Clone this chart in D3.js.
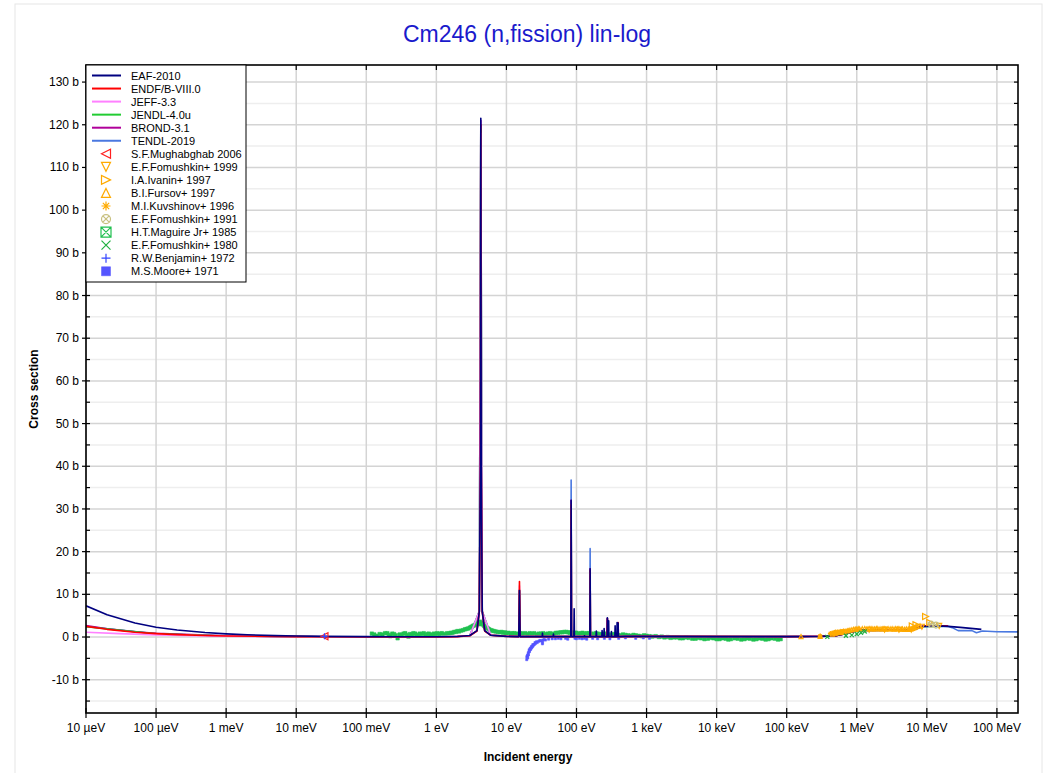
<!DOCTYPE html>
<html><head><meta charset="utf-8">
<script src="https://cdn.jsdelivr.net/npm/d3@7"></script>
<style>body{margin:0;background:#fff;} svg{font-family:"Liberation Sans",Arial,sans-serif;}</style>
</head><body><svg id="c" width="1063" height="773"></svg>
<script>
// ---------------- DATA ----------------
const title = "Cm246 (n,fission) lin-log";
const xTickValues = [1e-5,1e-4,1e-3,1e-2,1e-1,1,10,100,1e3,1e4,1e5,1e6,1e7,1e8];
const xTickLabels = ["10 µeV","100 µeV","1 meV","10 meV","100 meV","1 eV","10 eV","100 eV","1 keV","10 keV","100 keV","1 MeV","10 MeV","100 MeV"];
const yTickValues = [-10,0,10,20,30,40,50,60,70,80,90,100,110,120,130];
const yMinorValues = [-15,-5,5,15,25,35,45,55,65,75,85,95,105,115,125];

const eaf2010 = [[1e-5,7.3],[2e-5,5.2],[5e-5,3.3],[1e-4,2.3],[2e-4,1.65],[5e-4,1.05],[1e-3,0.74],[2e-3,0.52],[5e-3,0.33],[1e-2,0.23],[0.0253,0.15],[0.1,0.08],[0.3,0.05],[1,0.05],[2,0.12],[3,0.35],[3.8,1.5],[4.1,6],[4.25,40],[4.31,121.5],[4.37,40],[4.52,6],[4.9,1.5],[6,0.4],[10,0.15],[15.0,0.1],[15.35,10.9],[15.7,0.1],[32.4,0.1],[32.7,0.9],[33,0.1],[46.5,0.1],[46.9,0.7],[47.3,0.1],[83,0.1],[83.9,32],[84.8,0.1],[91.8,0.1],[92.6,6.6],[93.4,0.1],[129,0.1],[130,0.3],[131,0.1],[155,0.1],[156.6,16],[158,0.1],[190,0.1],[192,1.4],[194,0.1],[230,0.1],[232,1.5],[234,0.1],[246,0.1],[248,2.0],[250,0.1],[274,0.1],[276,4.5],[278,0.1],[286,0.1],[288,3.8],[290,0.1],[313,0.1],[315,1.3],[317,0.1],[353,0.1],[356,2.6],[359,0.1],[377,0.1],[380,3.4],[383,0.1],[390,0.1],[393,3.3],[396,0.1],[500,0.15],[1e3,0.15],[1e4,0.1],[1e5,0.1],[3e5,0.15],[5e5,0.3],[7e5,0.8],[1e6,1.5],[1.3e6,1.65],[3e6,1.6],[5e6,1.6],[6.5e6,1.7],[7.5e6,2.2],[9e6,2.5],[1.5e7,2.6],[2e7,2.5],[3e7,2.25],[6e7,1.8]];
const endf8 = [[1e-5,2.5],[2e-5,1.8],[5e-5,1.12],[1e-4,0.8],[2e-4,0.56],[5e-4,0.36],[1e-3,0.25],[1e-2,0.08],[0.0253,0.05],[0.1,0.03],[1,0.04],[2,0.1],[3,0.3],[3.8,1.4],[4.1,6],[4.25,40],[4.31,120],[4.37,40],[4.52,6],[4.9,1.4],[6,0.4],[10,0.15],[15.0,0.1],[15.35,13],[15.7,0.1],[83,0.1],[83.9,31],[84.8,0.1],[155,0.1],[156.6,15.5],[158,0.1],[274,0.1],[276,4.3],[278,0.1],[390,0.1],[393,3.4],[396,0.1],[1e3,0.15],[1e5,0.1],[3e5,0.15],[5e5,0.3],[7e5,0.8],[1e6,1.5],[1.3e6,1.65],[3e6,1.62],[5e6,1.6],[6.5e6,1.75],[7.5e6,2.3],[9e6,2.55],[1.5e7,2.65],[2e7,2.6]];
const jeff33 = [[1e-5,1.1],[3e-5,0.8],[1e-4,0.5],[1e-3,0.2],[1e-2,0.08],[0.0253,0.05],[1,0.04],[3,0.3],[4.1,6],[4.31,118],[4.52,6],[6,0.4],[15.0,0.1],[15.35,12],[15.7,0.1],[83,0.1],[83.9,31],[84.8,0.1],[155,0.1],[156.6,15],[158,0.1],[1e3,0.15],[1e5,0.1],[5e5,0.3],[1e6,1.5],[3e6,1.62],[6.5e6,1.75],[9e6,2.55],[2e7,2.6]];
const jendl40u = [[1e-5,2.4],[1e-4,0.77],[1e-3,0.24],[1e-2,0.08],[0.0253,0.05],[1,0.04],[3,0.3],[4.1,6],[4.31,119],[4.52,6],[6,0.4],[15.0,0.1],[15.35,11],[15.7,0.1],[83,0.1],[83.9,31],[84.8,0.1],[155,0.1],[156.6,15],[158,0.1],[1e3,0.15],[1e5,0.1],[5e5,0.3],[1e6,1.5],[3e6,1.6],[6.5e6,1.72],[9e6,2.5],[2e7,2.55]];
const brond31 = [[1e-5,2.7],[2e-5,1.95],[5e-5,1.22],[1e-4,0.86],[1e-3,0.27],[1e-2,0.09],[0.0253,0.055],[1,0.04],[2,0.11],[3,0.33],[3.8,1.45],[4.1,6],[4.25,40],[4.31,121],[4.37,40],[4.52,6],[4.9,1.45],[6,0.4],[15.0,0.1],[15.35,10.9],[15.7,0.1],[83,0.1],[83.9,32],[84.8,0.1],[155,0.1],[156.6,16],[158,0.1],[274,0.1],[276,4.4],[278,0.1],[1e3,0.15],[1e5,0.1],[5e5,0.3],[1e6,1.5],[3e6,1.6],[6.5e6,1.72],[9e6,2.52],[2e7,2.55]];
const tendl2019 = [[1e-5,2.45],[1e-4,0.78],[1e-3,0.25],[1e-2,0.08],[0.0253,0.05],[1,0.04],[3,0.3],[4.1,6],[4.31,120],[4.52,6],[6,0.4],[15.0,0.1],[15.35,11],[15.7,0.1],[83,0.1],[83.9,36.8],[84.8,0.1],[155,0.1],[156.6,20.7],[158,0.1],[274,0.1],[276,4.4],[278,0.1],[1e3,0.15],[1e5,0.1],[5e5,0.3],[1e6,1.5],[3e6,1.6],[6.5e6,1.72],[9e6,2.5],[2e7,2.55],[2.3e7,2.2],[2.8e7,1.5],[4.4e7,1.5],[5.1e7,1.0],[6.2e7,1.4],[1e8,1.25],[2e8,1.2]];

const mughabghab2006 = [[0.0253,0.16]];
const fomushkin1999 = [[1.5e6,1.7],[2.5e6,1.75],[4e6,1.7],[6e6,1.75],[8.5e6,2.4],[1.5e7,2.6]];
const ivanin1997 = [[6.2e6,2.6],[7.0e6,2.9],[9.6e6,4.8],[1.1e7,3.4]];
const fursov1997 = [[1.6e5,0.1],[3.0e5,0.15],[4.5e5,0.7],[4.8e5,0.9],[5.0e5,0.9],[5.3e5,1.1],[5.5e5,1.0],[5.8e5,1.2],[6.0e5,1.1],[6.5e5,1.2],[7e5,1.35],[7.5e5,1.5],[8e5,1.6],[8.5e5,1.7],[9e5,1.8],[9.5e5,1.85],[1.0e6,1.85],[1.05e6,1.95],[1.1e6,1.9],[1.2e6,1.95],[1.3e6,2.0],[1.4e6,1.9],[1.5e6,2.0],[1.6e6,1.95],[1.7e6,1.9],[1.8e6,1.9],[1.9e6,2.0],[2.0e6,1.95],[2.15e6,1.9],[2.3e6,1.9],[2.45e6,2.0],[2.6e6,1.85],[2.8e6,1.95],[3.0e6,1.9],[3.2e6,1.95],[3.4e6,1.85],[3.6e6,1.95],[3.8e6,1.9],[4.0e6,1.95],[4.3e6,1.85],[4.5e6,1.9],[4.8e6,1.8],[5.1e6,1.9],[5.4e6,1.8],[5.7e6,1.85],[6.0e6,1.9],[6.3e6,2.0],[6.6e6,2.2],[6.9e6,2.35],[7.2e6,2.5],[8.0e6,2.6]];
const kuvshinov1996 = [[3.0e5,0.2],[4.2e5,0.8],[4.6e5,1.0],[5.0e5,1.2],[5.5e5,1.1],[6.0e5,1.3],[6.5e5,1.4],[7.5e5,1.5]];
const fomushkin1991 = [[1.15e7,3.0],[1.35e7,2.8]];
const maguire1985 = [[0.12,0.8],[0.13,0.6],[0.14,0.3],[0.155,0.7],[0.17,0.6],[0.185,0.9],[0.2,0.9],[0.21,0.5],[0.22,0.2],[0.235,0.8],[0.25,0.7],[0.265,0.4],[0.28,-0.3],[0.3,0.6],[0.32,0.5],[0.34,0.8],[0.36,0.9],[0.38,0.5],[0.4,0.1],[0.42,0.7],[0.45,0.6],[0.47,0.9],[0.5,0.8],[0.52,0.5],[0.55,0.3],[0.58,0.8],[0.62,0.7],[0.66,0.9],[0.7,0.5],[0.74,0.7],[0.78,0.8],[0.82,0.6],[0.87,0.4],[0.92,0.8],[0.97,0.7],[1.03,0.9],[1.1,0.6],[1.15,0.8],[1.2,0.9],[1.28,0.7],[1.35,0.5],[1.42,0.9],[1.5,0.8],[1.6,1.0],[1.7,1.0],[1.8,1.2],[1.9,1.2],[2.0,1.4],[2.1,1.3],[2.25,1.5],[2.4,1.6],[2.55,1.8],[2.7,1.9],[2.85,2.0],[3.0,2.2],[3.15,2.4],[3.3,2.6],[3.45,2.7],[3.6,2.9],[3.75,3.0],[3.9,3.2],[4.0,3.4],[4.1,3.0],[4.2,3.6],[4.4,3.3],[4.5,3.1],[4.65,2.9],[4.8,2.6],[5.0,2.4],[5.2,2.1],[5.45,2.0],[5.7,1.8],[6.0,1.6],[6.3,1.5],[6.6,1.4],[7.0,1.3],[7.5,1.2],[8.0,1.1],[8.5,1.2],[9.0,1.0],[9.5,1.1],[10,0.9],[10.7,1.0],[11.5,0.8],[12.2,0.9],[13,0.9],[14,0.8],[15,0.7],[16,0.9],[17,0.8],[18.5,0.9],[20,0.7],[21.5,0.9],[23,0.8],[25,0.9],[27,0.6],[29,0.8],[31,0.8],[33.5,0.9],[36,0.7],[39,0.8],[42,0.9],[45,0.7],[48,0.8],[51,1.0],[55,1.0],[59,1.1],[63,1.1],[67,1.2],[72,1.2],[76,1.1],[80,1.0],[85,1.1],[90,0.9],[95,1.0],[100,1.0],[107,0.8],[115,0.9],[122,1.0],[130,0.8],[140,0.9],[150,0.9],[162,0.8],[175,0.7],[187,0.9],[200,0.8],[215,0.7],[230,0.6],[250,0.8],[270,0.7],[290,0.6],[310,0.5],[335,0.7],[360,0.6],[390,0.5],[420,0.4],[460,0.6],[500,0.5],[550,0.4],[600,0.3],[650,0.5],[700,0.4],[770,0.3],[850,0.2],[920,0.4],[1000,0.3],[1100,0.2],[1200,0.1],[1350,0.2],[1500,0.0],[1650,0.1],[1800,-0.1],[2000,0.0],[2200,-0.2],[2450,-0.1],[2700,-0.1],[3000,-0.3],[3300,-0.3],[3650,-0.1],[4000,-0.2],[4500,-0.4],[5000,-0.4],[5500,-0.2],[6000,-0.3],[6700,-0.5],[7500,-0.4],[8200,-0.2],[9000,-0.3],[10000,-0.5],[11000,-0.5],[12200,-0.3],[13500,-0.4],[14700,-0.6],[16000,-0.5],[18000,-0.3],[20000,-0.4],[22500,-0.6],[25000,-0.5],[27500,-0.3],[30000,-0.4],[33500,-0.6],[37000,-0.5],[41000,-0.3],[45000,-0.4],[50000,-0.6],[55000,-0.5],[61000,-0.3],[68000,-0.4],[75000,-0.6],[82000,-0.5]];
const fomushkin1980 = [[3.8e5,0.05],[7e5,0.3],[8.5e5,0.45],[1.0e6,0.7],[1.15e6,1.0],[1.3e6,1.3]];
const benjamin1972 = [[0.0253,0.17]];
const moore1971 = [[19.5,-5.3],[19.6,-4.6],[19.8,-4.8],[20,-4.3],[20.1,-4.9],[20.3,-4.2],[20.5,-3.7],[20.6,-4.2],[21,-3.5],[21.1,-3.0],[21.3,-3.4],[21.7,-3.0],[21.9,-2.6],[22.1,-2.9],[22.5,-2.6],[22.8,-2.2],[23,-2.5],[23.5,-2.2],[23.8,-1.8],[24,-2.1],[24.5,-1.8],[25.2,-1.7],[25.6,-1.3],[26,-1.5],[27,-1.1],[27.5,-1.3],[29,-1.0],[30,-0.8],[31,-0.9],[32.7,-1.6],[32.7,-1.2],[33,-0.7],[34.5,-0.6],[36,-0.7],[40,-0.5],[45,-0.4],[50,-0.4],[55,-0.3],[60,-0.4],[70,-0.3],[75,-0.5],[95,-0.3],[100,-0.4],[110,-0.3],[120,-0.4],[130,-0.3],[140,-0.5],[170,-0.3],[200,-0.4],[250,-0.3],[300,-0.4],[400,-0.3],[500,-0.2],[700,-0.3],[900,-0.2],[1100,-0.3]];

const lineSeries = [
  {name:"EAF-2010", data:eaf2010, color:"#000080"},
  {name:"ENDF/B-VIII.0", data:endf8, color:"#ff0000"},
  {name:"JEFF-3.3", data:jeff33, color:"#ff80ff"},
  {name:"JENDL-4.0u", data:jendl40u, color:"#22cc33"},
  {name:"BROND-3.1", data:brond31, color:"#b0009a"},
  {name:"TENDL-2019", data:tendl2019, color:"#4a78e0"}
];
const pointSeries = [
  {name:"S.F.Mughabghab 2006", data:mughabghab2006, color:"#ff2020", sym:"triL", size:7},
  {name:"E.F.Fomushkin+ 1999", data:fomushkin1999, color:"#ffaa00", sym:"triD", size:5},
  {name:"I.A.Ivanin+ 1997", data:ivanin1997, color:"#ffaa00", sym:"triR", size:6},
  {name:"B.I.Fursov+ 1997", data:fursov1997, color:"#ffaa00", sym:"triU", size:4},
  {name:"M.I.Kuvshinov+ 1996", data:kuvshinov1996, color:"#ffaa00", sym:"ast", size:5},
  {name:"E.F.Fomushkin+ 1991", data:fomushkin1991, color:"#c8c080", sym:"cx", size:6},
  {name:"H.T.Maguire Jr+ 1985", data:maguire1985, color:"#20c050", sym:"sqfill", size:3.5},
  {name:"E.F.Fomushkin+ 1980", data:fomushkin1980, color:"#20b040", sym:"x", size:4},
  {name:"R.W.Benjamin+ 1972", data:benjamin1972, color:"#3344ff", sym:"plus", size:6},
  {name:"M.S.Moore+ 1971", data:moore1971, color:"#5555ff", sym:"sqfill", size:2.2}
];
const legendSymbols = ["triL","triD","triR","triU","ast","cx","sqx","x","plus","sqfill"];

// ---------------- LAYOUT ----------------
const W=1063,H=773, L=86, R=1018, T=65, B=713;
const svg=d3.select("#c");
const x=d3.scaleLog().domain([1e-5,2e8]).range([L,R]);
const y=d3.scaleLinear().domain([-17.8,134]).range([B,T]);

svg.append("rect").attr("x",15).attr("y",4).attr("width",1027).attr("height",780).attr("fill","none").attr("stroke","#e6e6e6");

// grid
const g=svg.append("g");
g.selectAll(".ym").data(yMinorValues).enter().append("line")
 .attr("x1",L).attr("x2",R).attr("y1",d=>y(d)).attr("y2",d=>y(d)).attr("stroke","#eeeeee").attr("stroke-width",1.5);
g.selectAll(".yM").data(yTickValues).enter().append("line")
 .attr("x1",L).attr("x2",R).attr("y1",d=>y(d)).attr("y2",d=>y(d)).attr("stroke","#d4d4d4").attr("stroke-width",1.5);
g.selectAll(".xM").data(xTickValues).enter().append("line")
 .attr("y1",T).attr("y2",B).attr("x1",d=>x(d)).attr("x2",d=>x(d)).attr("stroke","#d4d4d4").attr("stroke-width",1.5);

// clip
svg.append("clipPath").attr("id","clip").append("rect").attr("x",L).attr("y",T).attr("width",R-L).attr("height",B-T);
const plot=svg.append("g").attr("clip-path","url(#clip)");

function sym(type,s){
  const h=s/2;
  switch(type){
    case "triL": return `M${-h},0L${h},${-h}L${h},${h}Z`;
    case "triR": return `M${h},0L${-h},${-h}L${-h},${h}Z`;
    case "triU": return `M0,${-h}L${h},${h}L${-h},${h}Z`;
    case "triD": return `M0,${h}L${h},${-h}L${-h},${-h}Z`;
    case "ast": return `M${-h},0L${h},0M0,${-h}L0,${h}M${-h*0.7},${-h*0.7}L${h*0.7},${h*0.7}M${-h*0.7},${h*0.7}L${h*0.7},${-h*0.7}`;
    case "cx": return `M${h},0A${h},${h} 0 1,1 ${-h},0A${h},${h} 0 1,1 ${h},0M${-h*0.7},${-h*0.7}L${h*0.7},${h*0.7}M${-h*0.7},${h*0.7}L${h*0.7},${-h*0.7}`;
    case "sqx": return `M${-h},${-h}H${h}V${h}H${-h}ZM${-h},${-h}L${h},${h}M${-h},${h}L${h},${-h}`;
    case "x": return `M${-h},${-h}L${h},${h}M${-h},${h}L${h},${-h}`;
    case "plus": return `M${-h},0H${h}M0,${-h}V${h}`;
    case "sqfill": return `M${-h},${-h}H${h}V${h}H${-h}Z`;
  }
}
function drawSym(sel,type,s,color){
  const filled = type==="sqfill";
  sel.append("path").attr("d",sym(type,s)).attr("fill",filled?color:"none").attr("stroke",color).attr("stroke-width",filled?0.5:1.2);
}

const ptsOrderUnder=["H.T.Maguire Jr+ 1985","M.S.Moore+ 1971"];
pointSeries.filter(p=>ptsOrderUnder.includes(p.name)).forEach(p=>{
  p.data.forEach(d=>{ drawSym(plot.append("g").attr("transform",`translate(${x(d[0])},${y(d[1])})`),p.sym,p.size,p.color); });
});

// curves
const line=d3.line().x(d=>x(d[0])).y(d=>y(d[1]));
lineSeries.slice().reverse().forEach(s=>{
  plot.append("path").datum(s.data).attr("d",line).attr("fill","none").attr("stroke",s.color).attr("stroke-width",1.6).attr("stroke-linejoin","round");
});

pointSeries.filter(p=>!ptsOrderUnder.includes(p.name)).forEach(p=>{
  p.data.forEach(d=>{ drawSym(plot.append("g").attr("transform",`translate(${x(d[0])},${y(d[1])})`),p.sym,p.size,p.color); });
});

// axes frame
svg.append("rect").attr("x",L).attr("y",T).attr("width",R-L).attr("height",B-T).attr("fill","none").attr("stroke","#000").attr("stroke-width",1.6);
const tk=svg.append("g").attr("stroke","#000").attr("stroke-width",1.2);
yTickValues.forEach(v=>{
  tk.append("line").attr("x1",L-4).attr("x2",L+4).attr("y1",y(v)).attr("y2",y(v));
  tk.append("line").attr("x1",R-4).attr("x2",R).attr("y1",y(v)).attr("y2",y(v));
});
yMinorValues.forEach(v=>{
  tk.append("line").attr("x1",L).attr("x2",L+4).attr("y1",y(v)).attr("y2",y(v));
  tk.append("line").attr("x1",R-4).attr("x2",R).attr("y1",y(v)).attr("y2",y(v));
});
xTickValues.forEach(v=>{
  tk.append("line").attr("x1",x(v)).attr("x2",x(v)).attr("y1",B-5).attr("y2",B+5);
  tk.append("line").attr("x1",x(v)).attr("x2",x(v)).attr("y1",T).attr("y2",T+5);
});
svg.selectAll(".yl").data(yTickValues).enter().append("text")
 .attr("x",L-7).attr("y",d=>y(d)+4).attr("text-anchor","end").attr("font-size",12).attr("fill","#000").text(d=>d+" b");
svg.selectAll(".xl").data(xTickValues).enter().append("text")
 .attr("x",d=>x(d)).attr("y",B+19).attr("text-anchor","middle").attr("font-size",12).attr("fill","#000").text((d,i)=>xTickLabels[i]);

// titles
svg.append("text").attr("x",527).attr("y",42).attr("text-anchor","middle").attr("font-size",23).attr("fill","#1a1acc").text(title);
svg.append("text").attr("x",528).attr("y",761).attr("text-anchor","middle").attr("font-size",12).attr("font-weight","bold").text("Incident energy");
svg.append("text").attr("transform","translate(38,389) rotate(-90)").attr("text-anchor","middle").attr("font-size",12).attr("font-weight","bold").text("Cross section");

// legend
const lg=svg.append("g");
lg.append("rect").attr("x",L).attr("y",T).attr("width",160).attr("height",217).attr("fill","#fff").attr("stroke","#000").attr("stroke-width",1);
const ly0=75.5, ldy=13.05;
lineSeries.forEach((s,i)=>{
  const yy=ly0+i*ldy;
  lg.append("line").attr("x1",92).attr("x2",121).attr("y1",yy).attr("y2",yy).attr("stroke",s.color).attr("stroke-width",2);
  lg.append("text").attr("x",131).attr("y",yy+4).attr("font-size",11).text(s.name);
});
pointSeries.forEach((p,i)=>{
  const yy=ly0+(i+6)*ldy;
  const t=legendSymbols[i];
  drawSym(lg.append("g").attr("transform",`translate(106,${yy})`),t,t==="sqx"?10:9,p.color);
  lg.append("text").attr("x",131).attr("y",yy+4).attr("font-size",11).text(p.name);
});
</script></body></html>
